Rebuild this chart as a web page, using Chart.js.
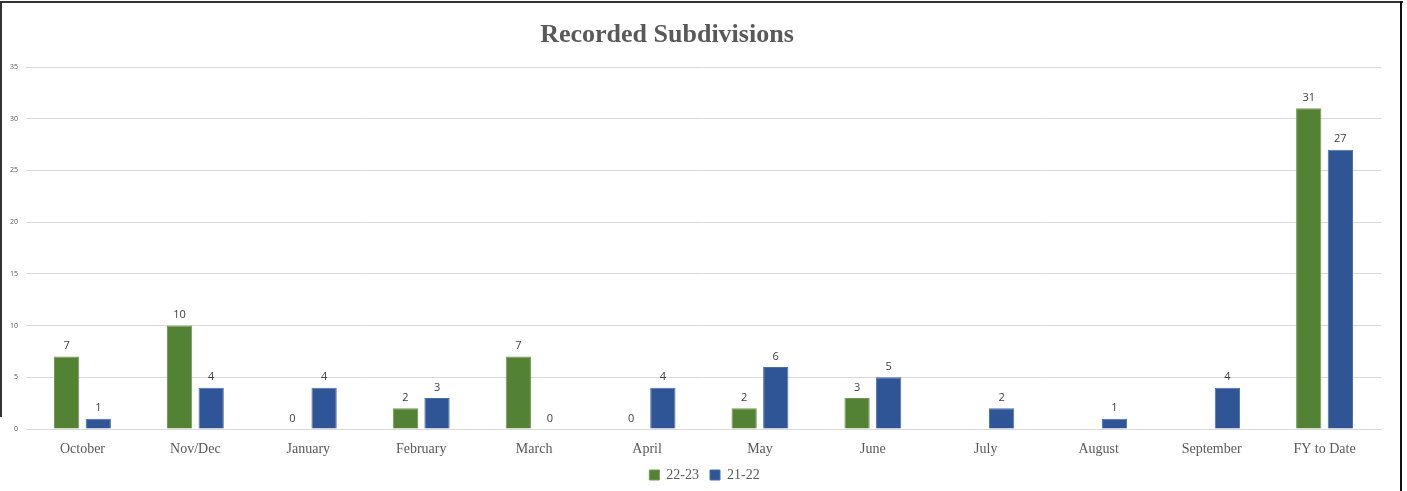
<!DOCTYPE html>
<html>
<head>
<meta charset="utf-8">
<script src="https://cdn.jsdelivr.net/npm/chart.js@4"></script>
<style>
  html, body { margin: 0; padding: 0; background: #fff; }
  #wrap { position: relative; width: 1407px; height: 491px; }
  #chart { position: absolute; left: 0; top: 0; }
  #title { position: absolute; left: 467px; width: 400px; top: 19px; text-align: center;
           font: bold 26px "Liberation Serif"; color: #595959; }
  .edge { position: absolute; background: #333; }
</style>
</head>
<body>
<div id="wrap">
  <canvas id="chart" width="1407" height="491"></canvas>
  <div id="title">Recorded Subdivisions</div>
  <div class="edge" style="left:0;top:1px;width:1403px;height:2px;"></div>
  <div class="edge" style="left:0;top:1px;width:2px;height:416px;"></div>
  <div class="edge" style="left:1400px;top:1px;width:2px;height:490px;background:#111;"></div>
</div>
<script>
const categories = ['October', 'Nov/Dec', 'January', 'February', 'March', 'April', 'May', 'June', 'July', 'August', 'September', 'FY to Date'];
const fy2223 = [7, 10, 0, 2, 7, 0, 2, 3, null, null, null, 31];
const fy2122 = [1, 4, 4, 3, 0, 4, 6, 5, 2, 1, 4, 27];
const yTicks = [0, 5, 10, 15, 20, 25, 30, 35];

// draws the value above each bar
const barLabels = {
  id: 'barLabels',
  afterDatasetsDraw(chart){
    const ctx = chart.ctx;
    ctx.save();
    ctx.font = '11px "Open Sans"';
    ctx.fillStyle = '#404040';
    ctx.textAlign = 'center';
    ctx.textBaseline = 'bottom';
    chart.data.datasets.forEach((ds, i) => {
      chart.getDatasetMeta(i).data.forEach((bar, j) => {
        const v = ds.data[j];
        if(v === null) return;
        ctx.fillText(String(v), bar.x, bar.y - 5);
      });
    });
    ctx.restore();
  }
};

const ctx = document.getElementById('chart').getContext('2d');
new Chart(ctx, {
  type: 'bar',
  data: {
    labels: categories,
    datasets: [
      { label: '22-23', data: fy2223, backgroundColor: '#548235', borderColor: '#6f9a4f', borderWidth: 1 },
      { label: '21-22', data: fy2122, backgroundColor: '#2f5597', borderColor: '#4a6fae', borderWidth: 1 }
    ]
  },
  options: {
    responsive: false,
    animation: false,
    layout: { padding: { left: 2, right: 0, top: 67, bottom: 0 } },
    datasets: { bar: { categoryPercentage: 0.56, barPercentage: 0.8 } },
    plugins: {
      legend: {
        position: 'bottom',
        maxHeight: 34,
        labels: {
          color: '#595959',
          boxWidth: 10,
          boxHeight: 10,
          padding: 11,
          font: { family: '"Liberation Serif"', size: 14 }
        }
      },
      tooltip: { enabled: false }
    },
    scales: {
      x: {
        grid: { display: false, drawTicks: false },
        border: { color: '#d9d9d9' },
        ticks: { color: '#595959', padding: 12, font: { family: '"Liberation Serif"', size: 14 } },
        afterFit: axis => { axis.height = 28; }
      },
      y: {
        min: 0,
        max: 35,
        afterBuildTicks: axis => { axis.ticks = yTicks.map(v => ({ value: v })); },
        grid: { color: '#d9d9d9', drawTicks: false },
        border: { display: false },
        ticks: { color: '#595959', padding: 8, font: { family: '"Open Sans"', size: 7 } }
      },
      // empty right gutter so the legend centres on the whole canvas
      gutter: {
        position: 'right',
        grid: { display: false },
        border: { display: false },
        ticks: { display: false },
        afterFit: axis => { axis.width = 26; }
      }
    }
  },
  plugins: [barLabels]
});
</script>
</body>
</html>
